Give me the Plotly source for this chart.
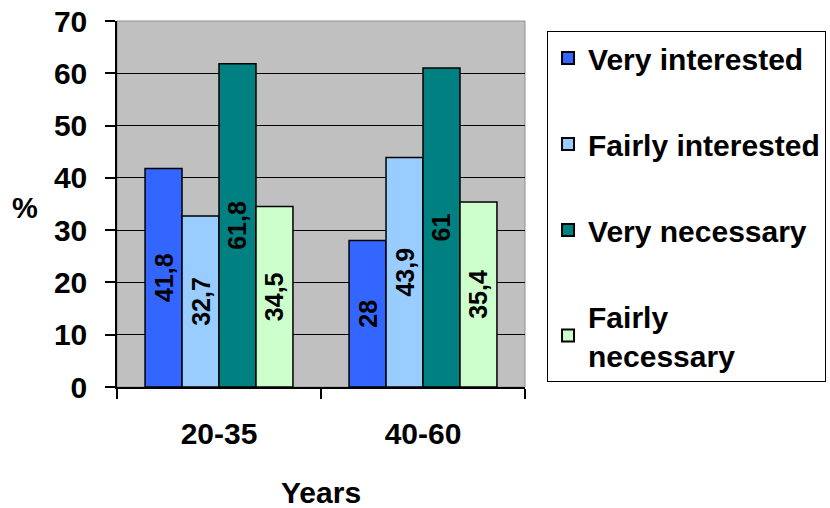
import plotly.graph_objects as go

categories = ["20-35", "40-60"]
series_names = ["Very interested", "Fairly interested", "Very necessary", "Fairly<br>necessary"]
very_interested = [41.8, 28]
fairly_interested = [32.7, 43.9]
very_necessary = [61.8, 61]
fairly_necessary = [34.5, 35.4]
colors = ["#3366FF", "#99CCFF", "#008080", "#CCFFCC"]
y_ticks = [0, 10, 20, 30, 40, 50, 60, 70]

FONT = "Liberation Sans, Arial, sans-serif"

def fmt(v):
    s = ("%g" % v)
    return s.replace(".", ",")

fig = go.Figure()
for i, (name, vals) in enumerate(zip(series_names,
                                     [very_interested, fairly_interested, very_necessary, fairly_necessary])):
    fig.add_trace(go.Bar(
        x=categories, y=vals, name=name,
        marker=dict(color=colors[i], line=dict(color="black", width=1.5)),
        text=[fmt(v) for v in vals],
        textposition="inside", insidetextanchor="middle", textangle=-90,
        textfont=dict(family=FONT, size=25, color="black", weight="bold"),
        insidetextfont=dict(family=FONT, size=25, color="black", weight="bold"),
        legendgroup=f"g{i}",
        cliponaxis=False,
    ))

fig.update_layout(
    width=830, height=508,
    margin=dict(l=117, r=305, t=21, b=121, autoexpand=False),
    paper_bgcolor="white", plot_bgcolor="#C0C0C0",
    barmode="group", bargap=0.275, bargroupgap=0,
    font=dict(family=FONT, size=29, color="black", weight="bold"),
    showlegend=True,
    legend=dict(
        x=1.054, y=0.973, xanchor="left", yanchor="top",
        bordercolor="black", borderwidth=1, bgcolor="white",
        font=dict(family=FONT, size=30, color="black", weight="bold"),
        traceorder="grouped", tracegroupgap=44,
        itemsizing="constant",
    ),
    xaxis=dict(
        type="category", showline=True, linecolor="black", linewidth=1.5,
        ticks="outside", tickson="boundaries", ticklen=10, tickcolor="black", tickwidth=1.5,
        tickfont=dict(family=FONT, size=30, color="black", weight="bold"),
        ticklabelstandoff=19, showgrid=False, automargin=False,
    ),
    yaxis=dict(
        range=[0, 70], tickvals=y_ticks, showline=True, linecolor="black", linewidth=1.5,
        ticks="outside", ticklen=10, tickcolor="black", tickwidth=1.5,
        tickfont=dict(family=FONT, size=30, color="black", weight="bold"),
        ticklabelstandoff=12, automargin=False, ticklabeloverflow="allow",
        showgrid=True, gridcolor="black", gridwidth=1.3, zeroline=False,
    ),
    shapes=[
        dict(type="rect", xref="paper", yref="paper", x0=0, x1=1, y0=0, y1=1,
             line=dict(color="#909090", width=1), layer="below"),
    ],
    annotations=[
        dict(text="%", x=-0.2255, y=0.49, xref="paper", yref="paper", showarrow=False,
             xanchor="center", yanchor="middle",
             font=dict(family=FONT, size=29, color="black", weight="bold")),
        dict(text="Years", x=0.5, y=-0.287, xref="paper", yref="paper", showarrow=False,
             xanchor="center", yanchor="middle",
             font=dict(family=FONT, size=30, color="black", weight="bold")),
    ],
)

fig.write_html("out.html", config={"displayModeBar": False},
               post_script="document.body.style.margin='0';")
